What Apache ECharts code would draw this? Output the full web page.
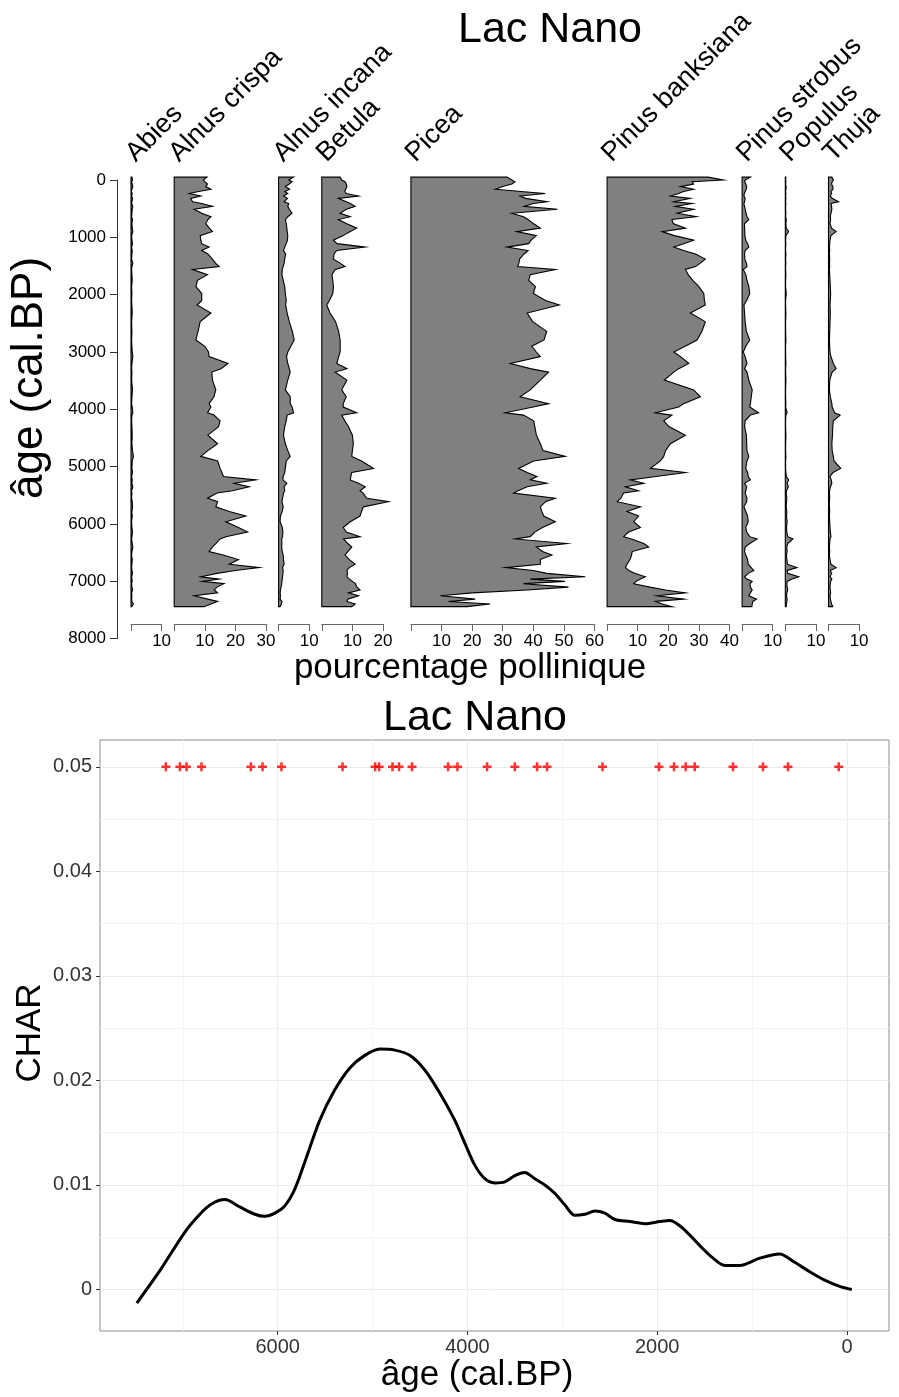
<!DOCTYPE html>
<html>
<head>
<meta charset="utf-8">
<title>Lac Nano</title>
<script src="https://cdn.jsdelivr.net/npm/echarts@6/dist/echarts.min.js"></script>
<style>
  html, body { margin: 0; padding: 0; background: #fff; }
  #chart { width: 899px; height: 1397px; }
</style>
</head>
<body>
<div id="chart"></div>
<script>
// ---- pollen diagram data (% per sample, ages cal. BP) ----
const taxa = ['Abies', 'Alnus crispa', 'Alnus incana', 'Betula', 'Picea',
  'Pinus banksiana', 'Pinus strobus', 'Populus', 'Thuja']

const ages = [-50, 0, 30, 70, 115, 160, 200, 235, 280, 320,
  380, 410, 460, 510, 580, 640, 690, 760, 840, 900,
  970, 1050, 1110, 1170, 1230, 1290, 1380, 1450, 1510, 1560,
  1650, 1750, 1860, 1980, 2100, 2180, 2320, 2470, 2640, 2790,
  2900, 3000, 3080, 3200, 3290, 3350, 3490, 3660, 3780, 3900,
  3960, 4060, 4100, 4200, 4300, 4450, 4600, 4720, 4820, 4900,
  5030, 5100, 5170, 5230, 5290, 5350, 5420, 5460, 5550, 5610,
  5700, 5780, 5860, 5960, 6060, 6140, 6220, 6260, 6340, 6400,
  6480, 6540, 6620, 6700, 6760, 6810, 6860, 6920, 6960, 7000,
  7040, 7100, 7150, 7200, 7250, 7310, 7350, 7395, 7441]

const abies = [0.3, 0.5, 0.2, 0.4, 0.6, 0.3, 0.1, 0.4, 0.2, 0.5,
  0.3, 0.2, 0.6, 0.4, 0.3, 0.2, 0.5, 0.3, 0.4, 0.6,
  0.2, 0.3, 0.5, 0.2, 0.4, 0.3, 0.2, 0.6, 0.3, 0.2,
  0.3, 0.4, 0.2, 0.3, 0.2, 0.3, 0.4, 0.2, 0.3, 0.2,
  0.3, 0.4, 0.6, 0.3, 0.2, 0.3, 0.2, 0.5, 0.3, 0.2,
  0.4, 0.6, 0.3, 0.2, 0.3, 0.4, 0.3, 0.5, 0.8, 0.4,
  0.3, 0.5, 0.2, 0.4, 0.3, 0.6, 0.2, 0.3, 0.2, 0.4,
  0.5, 0.3, 0.4, 0.2, 0.3, 0.5, 0.3, 0.2, 0.4, 0.6,
  0.3, 0.2, 0.4, 0.3, 0.2, 0.3, 0.5, 0.2, 0.3, 0.4,
  0.2, 0.3, 0.5, 0.2, 0.3, 0.2, 0.3, 0.8, 0.2]

const alnusCrispa = [10.7, 9.5, 10, 10.9, 10.3, 12, 8, 4.9, 8.7, 5.4,
  6, 9, 12.5, 6.5, 9, 12, 11, 10.3, 11.5, 12.5,
  8.5, 8.7, 9, 11.4, 9, 11, 12.5, 13.5, 14.7, 6,
  10.9, 7.6, 7.1, 9, 9, 7.5, 12, 8.5, 7.8, 7.1,
  10, 11.2, 11.4, 17.6, 15.3, 12.3, 12.5, 13.6, 13, 11.4,
  12, 10.9, 13, 15, 14.5, 11, 14.2, 11, 8.7, 14.2,
  15, 15.6, 16.1, 26.7, 19.6, 24.5, 19, 14, 10.9, 14.2,
  13.6, 18, 23.4, 16.9, 21, 24, 16.9, 15, 13.6, 12.5,
  11.4, 16, 21, 18, 27.8, 20, 14, 8.7, 14.7, 9.3,
  16.3, 14, 13.1, 14.2, 6.5, 11, 14.2, 12, 9.8]

const alnusIncana = [4.9, 3.3, 4.4, 3.5, 2.2, 3.6, 2, 3, 1.6, 2.9,
  1.8, 3.3, 3, 3.5, 4.4, 3, 2.2, 2.5, 2.7, 2.8,
  3, 2.9, 2.5, 2, 1.6, 2.3, 2, 1.8, 1.5, 1.2,
  1.1, 1.5, 2, 2.2, 2.5, 2.3, 2.8, 3.5, 4.5, 5.1,
  4, 3, 2.6, 3, 3.5, 3.8, 3, 2.2, 3.8, 3.8,
  4.4, 4.9, 2.8, 2.5, 2, 1.6, 2.2, 3, 3.8, 2.5,
  2.2, 2, 1.5, 1.4, 2.7, 1.8, 2, 1.6, 1.3, 1.1,
  1.5, 1.2, 0.6, 0.5, 1.2, 1.4, 1.3, 1, 1.1, 1,
  1.2, 1.5, 1.6, 1.8, 1.3, 1.5, 1.4, 1.3, 1.2, 1.1,
  1, 0.8, 0.6, 0.5, 0.6, 0.5, 1.1, 0.9, 0.5]

const betula = [6, 6.5, 7.6, 8, 8.2, 7.8, 7.5, 8, 12, 5.4,
  8, 9.3, 10.9, 8, 6, 9.3, 5.4, 8, 11.4, 9.3,
  7, 3.8, 5, 14.2, 4.9, 4, 3.8, 6, 7.6, 4.4,
  3.3, 3.6, 3.8, 3.6, 2.5, 1.6, 2.7, 4.5, 5.5, 6,
  6, 6, 5.5, 4.9, 8.2, 4.4, 8.2, 6.5, 8, 7,
  7, 11.4, 6.5, 7.5, 8.7, 10, 10.3, 10, 9.8, 13,
  16.9, 9.8, 9.5, 9.3, 12, 14.2, 12.5, 13.5, 14.7, 21.8,
  13.6, 13, 12.5, 9.3, 7, 8, 12.5, 7.1, 8.5, 9.8,
  8.5, 7.6, 9, 10.9, 9, 8.2, 8.4, 8.2, 9, 10,
  11, 11.5, 12.5, 8.7, 12, 8.5, 8.2, 10.9, 9.8]

const picea = [31.4, 33, 34, 33, 30, 27.6, 36, 43.9, 35.7, 37.5,
  44.5, 40, 37, 47.9, 33, 36.8, 38.3, 40, 42.3, 34.6,
  41, 39.3, 38.5, 31.4, 38.3, 37, 35.5, 35.3, 34.9, 47.2,
  39, 38.5, 40.7, 40, 44, 48.5, 38, 39.8, 44.4, 43.5,
  39.5, 41, 42.3, 32.5, 39, 45, 42.3, 39, 35.7, 45,
  40, 30.8, 36.8, 40.1, 40.5, 41, 42.3, 43.2, 50.4, 40.1,
  35.2, 38, 41.2, 39, 44.4, 38, 35, 33.6, 47.2, 44,
  42.3, 42.8, 43.4, 47.2, 43, 40.5, 39, 34.1, 51, 41,
  43, 46.1, 42.3, 42.3, 31, 40, 44.4, 57, 39, 50.4,
  36.8, 51.5, 38, 20, 9.6, 21, 12.3, 25.9, 18.3]

const pinusBanksiana = [33, 38, 27.8, 28.3, 24, 28.3, 25, 23.4, 20.7, 27.2,
  21.8, 27.8, 22.3, 28.3, 22.9, 29.2, 21.2, 21.6, 25.6, 18,
  22, 28.3, 25, 21.8, 25, 28.9, 32.1, 30.5, 28.9, 25.6,
  26.5, 28, 30, 31.6, 31.8, 32.1, 27.2, 32.1, 31, 29.4,
  25.5, 21.8, 24, 26.7, 23.4, 21.8, 18.7, 28.3, 30.5, 25,
  23.4, 15.8, 21.2, 18.5, 20.2, 25.6, 20.7, 19.1, 18.5, 17.4,
  14.2, 25.6, 16, 7.6, 12, 6, 10.3, 5.4, 4.5, 3.3,
  10.9, 6.5, 10.3, 8.7, 10.9, 7, 5.4, 8, 12, 13.6,
  8.2, 8, 7.5, 6.5, 6, 7.1, 9, 12.5, 10.9, 9.5,
  8.7, 14, 19.1, 25.6, 16.3, 25.1, 15.8, 18, 21.2]

const pinusStrobus = [2.7, 1, 0.8, 1.2, 1.5, 1.4, 1, 0.7, 0.6, 1,
  0.8, 0.6, 0.8, 1, 1.3, 1.6, 2.2, 0.8, 0.8, 0.9,
  0.9, 1.2, 1.8, 2.2, 1, 0.8, 0.9, 1.4, 1.6, 0.4,
  1.2, 1.6, 2.2, 2.5, 1.5, 0.6, 0.8, 1, 1.4, 2.5,
  1.2, 0.4, 1, 1.6, 0.8, 1.6, 2.2, 3.3, 3, 2.7,
  2.5, 5.4, 2.7, 1, 0.8, 1.4, 1.5, 1.6, 2.2, 1.6,
  1.2, 1.8, 2, 2.7, 0.8, 1.5, 1.2, 1, 1.6, 1.5,
  0.6, 1.2, 1.8, 2, 1.2, 1.5, 2.5, 4.9, 2.5, 1,
  0.8, 1.2, 1.8, 2, 3, 3.8, 2, 0.8, 1.6, 3.3,
  2.6, 2.7, 3.3, 2.7, 2.2, 4.7, 3.5, 3.3, 3.2]

const populus = [0.2, 0.1, 0.2, 0.1, 0.3, 0.2, 0.1, 0.2, 0.1, 0.2,
  0.1, 0.2, 0.1, 0.1, 0.2, 0.1, 0.3, 0.2, 0.3, 1.1,
  0.2, 0.1, 0.2, 0.1, 0.1, 0.2, 0.1, 0.2, 0.1, 0.1,
  0.2, 0.1, 0.1, 0.3, 0.1, 0.1, 0.2, 0.1, 0.1, 0.2,
  0.1, 0.1, 0.1, 0.2, 0.1, 0.1, 0.2, 0.1, 0.1, 0.2,
  0.1, 0.6, 0.2, 0.1, 0.1, 0.2, 0.1, 0.1, 0.2, 0.1,
  0.1, 0.2, 0.3, 1.1, 0.6, 1.0, 0.4, 0.3, 0.5, 0.4,
  0.3, 0.5, 0.4, 0.6, 0.4, 0.5, 0.8, 2.5, 0.8, 0.5,
  0.6, 0.4, 0.5, 0.7, 3.8, 0.6, 0.8, 4.4, 2.2, 0.6,
  0.5, 0.6, 0.8, 0.5, 0.4, 0.6, 0.5, 0.4, 0.3]

const thuja = [1.1, 1.6, 1.2, 1, 1.4, 1.5, 0.8, 1, 0.6, 1.2,
  3.3, 0.8, 1, 1.1, 0.8, 0.6, 0.7, 0.5, 1, 2.5,
  0.8, 0.5, 0.4, 0.3, 0.4, 0.3, 0.4, 0.3, 0.4, 0.3,
  0.4, 0.5, 0.6, 0.7, 0.6, 0.5, 0.6, 0.5, 0.4, 0.3,
  0.4, 0.5, 0.8, 1.6, 2.5, 1.2, 0.4, 0.3, 0.6, 1.1,
  1.2, 2, 3.8, 1.6, 1.4, 1.3, 1.1, 1.2, 1.6, 1.8,
  4, 1.5, 0.5, 0.9, 1.1, 0.6, 0.4, 0.3, 0.4, 0.3,
  0.3, 0.4, 0.3, 0.4, 0.5, 0.6, 0.8, 0.5, 0.4, 0.3,
  0.4, 0.3, 0.5, 0.8, 2.5, 0.6, 1, 0.5, 1.1, 0.7,
  0.6, 0.5, 0.6, 0.7, 0.5, 0.6, 0.8, 1, 1.4]

const taxaValues = [abies, alnusCrispa, alnusIncana, betula, picea,
  pinusBanksiana, pinusStrobus, populus, thuja]
const axisMax = [10, 30, 10, 20, 60, 40, 10, 10, 10]   // last labelled tick
const panelMax = [10, 30, 10, 25, 60, 40, 10, 10, 10]  // width reserved per panel

// ---- charcoal data ----
const charAges = [-50, 77, 235, 393, 551, 711, 919, 1130, 1288, 1425,
  1551, 1656, 1762, 1867, 1972, 2130, 2288, 2446, 2552, 2657,
  2763, 2868, 2974, 3079, 3185, 3290, 3396, 3501, 3606, 3712,
  3817, 3923, 4028, 4134, 4292, 4450, 4608, 4766, 4924, 5082,
  5240, 5398, 5556, 5714, 5820, 5925, 6030, 6136, 6241, 6399,
  6557, 6694, 6820, 6978, 7242, 7485]
const charValues = [0.0000, 0.0003, 0.0009, 0.0017, 0.0026, 0.0034, 0.0030, 0.0023, 0.0023, 0.0031,
  0.0042, 0.0052, 0.0061, 0.0066, 0.0065, 0.0063, 0.0065, 0.0067, 0.0073, 0.0075,
  0.0072, 0.0071, 0.0081, 0.0092, 0.0100, 0.0106, 0.0112, 0.0109, 0.0103, 0.0102,
  0.0106, 0.0119, 0.0140, 0.0162, 0.0188, 0.0210, 0.0224, 0.0229, 0.0230, 0.0224,
  0.0212, 0.0191, 0.0162, 0.0122, 0.0096, 0.0080, 0.0073, 0.0070, 0.0072, 0.0079,
  0.0086, 0.0082, 0.0072, 0.0055, 0.0018, -0.0013]
const fireAges = [87, 622, 885, 1201, 1605, 1700, 1823, 1981, 2577, 3161,
  3266, 3501, 3793, 4105, 4204, 4584, 4721, 4790, 4931, 4973,
  5317, 5960, 6160, 6283, 6803, 6961, 7031, 7179]
const fireLevel = 0.05

const ageTicks = [0, 2000, 4000, 6000]
const ageMinorTicks = [1000, 3000, 5000, 7000]
const charTicks = [0, 0.01, 0.02, 0.03, 0.04, 0.05]
const charMinorTicks = [0.005, 0.015, 0.025, 0.035, 0.045]

// ---- layout ----
const FONT = '"Liberation Sans", Arial, sans-serif'
const PX_PER_PC = 3.06
const PANEL_GAP = 12.6
const PANEL_TOP = 180
const PANEL_H = 444
const PX_PER_KYR = 57.34

const lefts = []
let cursor = 131
panelMax.forEach(m => { lefts.push(cursor); cursor += m * PX_PER_PC + PANEL_GAP })

function areaRenderer(vals) {
  return function (params, api) {
    if (params.dataIndex !== 0) return null
    const pts = [api.coord([0, ages[0]])]
    ages.forEach((a, k) => pts.push(api.coord([vals[k], a])))
    pts.push(api.coord([0, ages[ages.length - 1]]))
    return {
      type: 'polygon',
      shape: { points: pts },
      style: { fill: '#808080', stroke: '#000', lineWidth: 1.1, lineJoin: 'miter' },
    }
  }
}

const plain = v => String(v)

const grid = [{ left: 117, top: PANEL_TOP, width: 10, height: 8000 * PX_PER_KYR / 1000 }]
const xAxis = [{ gridIndex: 0, type: 'value', show: false }]
const yAxis = [{
  gridIndex: 0, type: 'value', inverse: true, min: 0, max: 8000, interval: 1000, position: 'left',
  axisLine: { show: true, onZero: false, lineStyle: { color: '#333', width: 1 } },
  axisTick: { show: true, length: 7, lineStyle: { color: '#333' } },
  axisLabel: { fontSize: 17, color: '#000', margin: 11, formatter: plain },
  splitLine: { show: false },
}]
const series = []

taxa.forEach((t, i) => {
  grid.push({ left: lefts[i], top: PANEL_TOP, width: axisMax[i] * PX_PER_PC, height: PANEL_H })
  xAxis.push({
    gridIndex: i + 1, type: 'value', min: 0, max: axisMax[i], interval: 10, position: 'bottom',
    axisLine: { show: true, onZero: false, lineStyle: { color: '#666', width: 1 } },
    axisTick: { show: true, length: 7, lineStyle: { color: '#666' } },
    axisLabel: { fontSize: 17, color: '#000', margin: 9, formatter: v => (v === 0 ? '' : String(v)) },
    splitLine: { show: false },
  })
  yAxis.push({
    gridIndex: i + 1, type: 'value', inverse: true, min: 0,
    max: PANEL_H / PX_PER_KYR * 1000, show: false,
    axisLine: { onZero: false },
  })
  const vals = taxaValues[i]
  series.push({
    type: 'custom', name: t, xAxisIndex: i + 1, yAxisIndex: i + 1,
    renderItem: areaRenderer(vals), silent: true, clip: false,
    data: ages.map((a, k) => [vals[k], a]), encode: { x: 0, y: 1 },
  })
})

// bottom charcoal panel
const B = taxa.length + 1
grid.push({ left: 100, top: 740, right: 10, bottom: 66, show: true, borderColor: '#8c8c8c', borderWidth: 1, backgroundColor: '#fff' })
xAxis.push({
  gridIndex: B, type: 'value', inverse: true, min: -443, max: 7873, position: 'bottom',
  axisLine: { show: false, onZero: false },
  axisTick: { show: true, length: 4, lineStyle: { color: '#333' }, customValues: ageTicks },
  axisLabel: { fontSize: 20, color: '#333', margin: 6, customValues: ageTicks, formatter: plain },
  splitLine: { show: true, lineStyle: { color: '#ebebeb', width: 1 } },
})
xAxis.push({
  gridIndex: B, type: 'value', inverse: true, min: -443, max: 7873, position: 'top',
  axisLine: { show: false, onZero: false }, axisLabel: { show: false },
  axisTick: { show: false, customValues: ageMinorTicks },
  splitLine: { show: true, lineStyle: { color: '#f4f4f4', width: 1 } },
})
yAxis.push({
  gridIndex: B, type: 'value', min: -0.00397, max: 0.05257, position: 'left',
  axisLine: { show: false, onZero: false },
  axisTick: { show: true, length: 4, lineStyle: { color: '#333' }, customValues: charTicks },
  axisLabel: { fontSize: 20, color: '#333', margin: 8, customValues: charTicks, formatter: v => String(+v.toFixed(3)) },
  splitLine: { show: true, lineStyle: { color: '#ebebeb', width: 1 } },
})
yAxis.push({
  gridIndex: B, type: 'value', min: -0.00397, max: 0.05257, position: 'right',
  axisLine: { show: false, onZero: false }, axisLabel: { show: false },
  axisTick: { show: false, customValues: charMinorTicks },
  splitLine: { show: true, lineStyle: { color: '#f4f4f4', width: 1 } },
})

series.push({
  type: 'line', name: 'CHAR', xAxisIndex: B, yAxisIndex: B,
  data: charAges.map((a, k) => [a, charValues[k]]),
  showSymbol: false, smooth: 0.3,
  lineStyle: { color: '#000', width: 3 },
})
series.push({
  type: 'scatter', name: 'feux', xAxisIndex: B, yAxisIndex: B,
  data: fireAges.map(a => [a, fireLevel]),
  symbol: 'path://M3.6,0H6.4V3.6H10V6.4H6.4V10H3.6V6.4H0V3.6H3.6Z',
  symbolSize: 9, itemStyle: { color: '#ff0000' },
})

const graphic = taxa.map((t, i) => ({
  type: 'text', x: lefts[i] + 9, y: 167, rotation: Math.PI / 4,
  style: { text: t, font: '27px ' + FONT, fill: '#000', align: 'left', verticalAlign: 'bottom' },
}))
graphic.push(
  { type: 'text', x: 550, y: 30, style: { text: 'Lac Nano', font: '43px ' + FONT, fill: '#000', align: 'center', verticalAlign: 'middle' } },
  { type: 'text', x: 30, y: 378, rotation: Math.PI / 2, style: { text: 'âge (cal.BP)', font: '44px ' + FONT, fill: '#000', align: 'center', verticalAlign: 'middle' } },
  { type: 'text', x: 470, y: 668, style: { text: 'pourcentage pollinique', font: '35px ' + FONT, fill: '#000', align: 'center', verticalAlign: 'middle' } },
  { type: 'text', x: 475, y: 718, style: { text: 'Lac Nano', font: '43px ' + FONT, fill: '#000', align: 'center', verticalAlign: 'middle' } },
  { type: 'text', x: 30, y: 1033, rotation: Math.PI / 2, style: { text: 'CHAR', font: '35px ' + FONT, fill: '#000', align: 'center', verticalAlign: 'middle' } },
  { type: 'text', x: 477, y: 1375, style: { text: 'âge (cal.BP)', font: '35px ' + FONT, fill: '#000', align: 'center', verticalAlign: 'middle' } },
)

const chart = echarts.init(document.getElementById('chart'))
chart.setOption({
  animation: false,
  backgroundColor: '#fff',
  textStyle: { fontFamily: FONT },
  grid, xAxis, yAxis, series, graphic,
})
</script>
</body>
</html>
